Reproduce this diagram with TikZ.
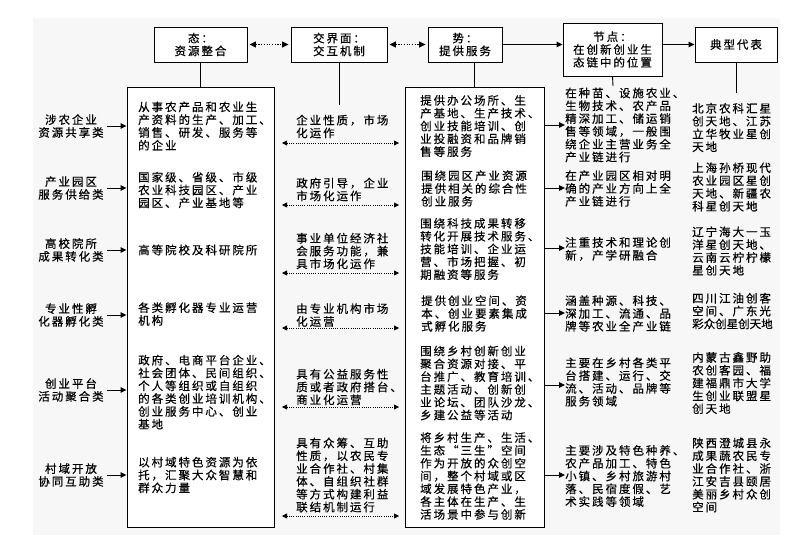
\documentclass[tikz,border=0pt]{standalone}
\usepackage{fontspec}
\setmainfont[LetterSpace=17,FakeBold=0.4]{Noto Sans CJK SC}
\usetikzlibrary{arrows.meta}
\newcommand\fs{\fontsize{11.5}{12.8}\selectfont}
\tikzset{
  box/.style={draw, line width=0.9pt, fill=white, align=center, inner sep=0pt, font=\fs},
  bigbox/.style={draw, line width=0.9pt, fill=white, inner sep=0pt},
  txt/.style={anchor=west, align=left, inner sep=0pt, font=\fs},
  lab/.style={align=center, inner sep=0pt, font=\fs},
  conn/.style={line width=0.9pt},
  arr/.style={-{Triangle[length=6pt,width=5.5pt]}, line width=1pt},
  darr/.style={{Triangle[length=5pt,width=5pt]}-{Triangle[length=5pt,width=5pt]}, line width=0.8pt, dash pattern=on 1pt off 1.2pt},
  tdarr/.style={{Triangle[length=6.5pt,width=6pt]}-{Triangle[length=6.5pt,width=6pt]}, line width=1pt, dash pattern=on 1.2pt off 1.5pt},
}
\begin{document}
\begin{tikzpicture}[x=1pt,y=-1pt]
\useasboundingbox (0,0) rectangle (802,557);
\fill[black!3] (33,18) rectangle (780,535);

% top boxes
\node[box, minimum width=93pt, minimum height=35pt] (t1) at (200.5,44.5) {态：\\资源整合};
\node[box, minimum width=96pt, minimum height=35pt] (t2) at (339,44.5) {交界面：\\交互机制};
\node[box, minimum width=74pt, minimum height=35pt] (t3) at (465,44.5) {势：\\提供服务};
\node[box, minimum width=99pt, minimum height=53pt] (t4) at (612.5,49.5) {节点：\\在创新创业生\\态链中的位置};
\node[box, minimum width=82pt, minimum height=35pt] (t5) at (736,44.5) {典型代表};

\draw[tdarr, shorten <=2pt, shorten >=2pt] (t1.east) -- (t1.east -| t2.west);
\draw[tdarr, shorten <=2pt, shorten >=2pt] (t2.east) -- (t2.east -| t3.west);
\draw[arr] (t3.east) -- (t3.east -| t4.west);
\draw[arr] (t4.east |- t5.west) -- (t5.west);

% big boxes
\node[bigbox, minimum width=147pt, minimum height=440pt] (b1) at (200.5,307) {};
\node[bigbox, minimum width=139pt, minimum height=440pt] (b2) at (474.5,307) {};

\coordinate (e2) at (339,105);
\coordinate (e4) at (613,86);
\coordinate (e5) at (736,93);
\draw[conn] (t1.south) -- (b1.north);
\draw[conn] (t2.south) -- (e2);
\draw[conn] (b2.north |- t3.south) -- (b2.north);
\draw[conn] (t4.south) -- (e4);
\draw[conn] (t5.south) -- (e5);

% left labels
\node[lab] (l1) at (71,126) {涉农企业\\资源共享类};
\node[lab] (l2) at (71,188) {产业园区\\服务供给类};
\node[lab] (l3) at (71,250) {高校院所\\成果转化类};
\node[lab] (l4) at (71,315) {专业性孵\\化器孵化类};
\node[lab] (l5) at (71,390) {创业平台\\活动聚合类};
\node[lab] (l6) at (71,475) {村域开放\\协同互助类};
\foreach \i in {1,...,6}{
  \draw[arr] ([xshift=3pt]l\i.east) -- (l\i.east -| b1.west);
}

% column 1
\node[txt] (a1) at (138,126) {从事农产品和农业生\\产资料的生产、加工、\\销售、研发、服务等\\的企业};
\node[txt] (a2) at (138,190) {国家级、省级、市级\\农业科技园区、产业\\园区、产业基地等};
\node[txt] (a3) at (138,250) {高等院校及科研院所};
\node[txt] (a4) at (138,314) {各类孵化器专业运营\\机构};
\node[txt] (a5) at (138,392) {政府、电商平台企业、\\社会团体、民间组织、\\个人等组织或自组织\\的各类创业培训机构、\\创业服务中心、创业\\基地};
\node[txt] (a6) at (138,475) {以村域特色资源为依\\托，汇聚大众智慧和\\群众力量};

% column 2
\node[txt] (m1) at (296,126.5) {企业性质，市场\\化运作};
\node[txt] (m2) at (296,189.5) {政府引导，企业\\市场化运作};
\node[txt] (m3) at (296,251) {事业单位经济社\\会服务功能，兼\\具市场化运作};
\node[txt] (m4) at (296,315) {由专业机构市场\\化运营};
\node[txt] (m5) at (296,387) {具有公益服务性\\质或者政府搭台、\\商业化运营};
\node[txt] (m6) at (296,475) {具有众筹、互助\\性质，以农民专\\业合作社、村集\\体、自组织社群\\等方式构建利益\\联结机制运行};

\coordinate (dl1) at (282,143); \coordinate (dr1) at (399,143);
\coordinate (dl2) at (282,205); \coordinate (dr2) at (399,205);
\coordinate (dl3) at (282,273); \coordinate (dr3) at (399,273);
\coordinate (dl4) at (282,328); \coordinate (dr4) at (399,328);
\coordinate (dl5) at (282,407); \coordinate (dr5) at (399,407);
\coordinate (dl6) at (282,516); \coordinate (dr6) at (399,516);
\foreach \i in {1,...,6}{
  \draw[darr] (dl\i) -- (dr\i);
}

% column 3
\node[txt] (s1) at (420,126) {提供办公场所、生\\产基地、生产技术、\\创业技能培训、创\\业投融资和品牌销\\售等服务};
\node[txt] (s2) at (421,188.5) {围绕园区产业资源\\提供相关的综合性\\创业服务};
\node[txt] (s3) at (420,249) {围绕科技成果转移\\转化开展技术服务、\\技能培训、企业运\\营、市场把握、初\\期融资等服务};
\node[txt] (s4) at (421,313.5) {提供创业空间、资\\本、创业要素集成\\式孵化服务};
\node[txt] (s5) at (420,383) {围绕乡村创新创业\\聚合资源对接、平\\台推广、教育培训、\\主题活动、创新创\\业论坛、团队沙龙、\\乡建公益等活动};
\node[txt] (s6) at (420,476) {将乡村生产、生活、\\生态“三生”空间\\作为开放的众创空\\间，整个村域或区\\域发展特色产业，\\各主体在生产、生\\活场景中参与创新};

% column 4
\node[txt] (n1) at (565,125) {在种苗、设施农业、\\生物技术、农产品\\精深加工、储运销\\售等领域，一般围\\绕企业主营业务全\\产业链进行};
\node[txt] (n2) at (565,188.5) {在产业园区相对明\\确的产业方向上全\\产业链进行};
\node[txt] (n3) at (565,249) {注重技术和理论创\\新，产学研融合};
\node[txt] (n4) at (565,313.5) {涵盖种源、科技、\\深加工、流通、品\\牌等农业全产业链};
\node[txt] (n5) at (565,382) {主要在乡村各类平\\台搭建、运行、交\\流、活动、品牌等\\服务领域};
\node[txt] (n6) at (565,476) {主要涉及特色种养、\\农产品加工、特色\\小镇、乡村旅游村\\落、民宿度假、艺\\术实践等领域};

\draw[arr] (b2.east |- 0,125) -- (n1.west |- 0,125);
\draw[arr] (b2.east |- 0,188) -- (n2.west |- 0,188);
\draw[arr] (b2.east |- 0,248) -- (n3.west |- 0,248);
\draw[arr] (b2.east |- 0,313) -- (n4.west |- 0,313);
\draw[arr] (b2.east |- 0,385) -- (n5.west |- 0,385);
\draw[arr] (b2.east |- 0,475) -- (n6.west |- 0,475);

% column 5
\node[txt] (r1) at (692,127.5) {北京农科汇星\\创天地、江苏\\立华牧业星创\\天地};
\node[txt] (r2) at (692,187) {上海孙桥现代\\农业园区星创\\天地、新疆农\\科星创天地};
\node[txt] (r3) at (692,251) {辽宁海大一玉\\洋星创天地、\\云南云柠柠檬\\星创天地};
\node[txt] (r4) at (692,311) {四川江油创客\\空间、广东光\\{\addfontfeature{LetterSpace=0}彩众创星创天地}};
\node[txt] (r5) at (692,383) {内蒙古鑫野助\\农创客园、福\\建福鼎市大学\\生创业联盟星\\创天地};
\node[txt] (r6) at (692,475) {陕西澄城县永\\成果蔬农民专\\业合作社、浙\\江安吉县颐居\\美丽乡村众创\\空间};
\end{tikzpicture}
\end{document}
